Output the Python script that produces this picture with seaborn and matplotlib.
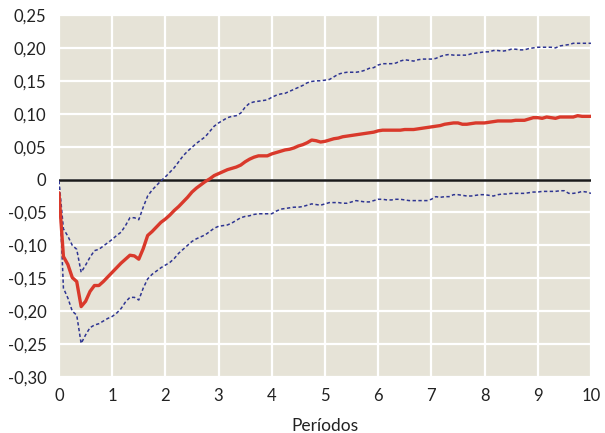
import numpy as np
import pandas as pd
import seaborn as sns
import matplotlib
matplotlib.use("Agg")
import matplotlib.pyplot as plt

# Monthly impulse response over 10 years (121 points, step 1/12)
respuesta = [
    -0.020, -0.117, -0.129, -0.149, -0.155, -0.193, -0.185, -0.170, -0.161, -0.161,
    -0.155, -0.148, -0.141, -0.134, -0.127, -0.121, -0.115, -0.116, -0.121, -0.105,
    -0.085, -0.079, -0.072, -0.065, -0.060, -0.054, -0.047, -0.041, -0.034, -0.027,
    -0.019, -0.013, -0.008, -0.003, 0.001, 0.006, 0.009, 0.012, 0.015, 0.017,
    0.019, 0.022, 0.027, 0.031, 0.034, 0.036, 0.036, 0.036, 0.039, 0.041,
    0.043, 0.045, 0.046, 0.048, 0.051, 0.053, 0.056, 0.060, 0.059, 0.057,
    0.058, 0.060, 0.062, 0.063, 0.065, 0.066, 0.067, 0.068, 0.069, 0.070,
    0.071, 0.072, 0.074, 0.075, 0.075, 0.075, 0.075, 0.075, 0.076, 0.076,
    0.076, 0.077, 0.078, 0.079, 0.080, 0.081, 0.082, 0.084, 0.085, 0.086,
    0.086, 0.084, 0.084, 0.085, 0.086, 0.086, 0.086, 0.087, 0.088, 0.089,
    0.089, 0.089, 0.089, 0.090, 0.090, 0.090, 0.092, 0.094, 0.094, 0.093,
    0.095, 0.094, 0.093, 0.095, 0.095, 0.095, 0.095, 0.097, 0.096, 0.096,
    0.096,
]

banda_superior = [
    -0.002, -0.075, -0.086, -0.100, -0.106, -0.141, -0.130, -0.118, -0.108, -0.106,
    -0.101, -0.096, -0.091, -0.085, -0.080, -0.070, -0.058, -0.058, -0.061, -0.042,
    -0.025, -0.016, -0.009, -0.002, 0.004, 0.011, 0.018, 0.027, 0.036, 0.043,
    0.049, 0.055, 0.060, 0.065, 0.073, 0.081, 0.086, 0.090, 0.094, 0.096,
    0.097, 0.101, 0.110, 0.116, 0.118, 0.119, 0.120, 0.121, 0.125, 0.128,
    0.130, 0.131, 0.134, 0.137, 0.140, 0.143, 0.147, 0.149, 0.150, 0.150,
    0.151, 0.152, 0.156, 0.160, 0.162, 0.163, 0.163, 0.163, 0.164, 0.166,
    0.169, 0.170, 0.174, 0.176, 0.176, 0.176, 0.177, 0.180, 0.182, 0.181,
    0.180, 0.182, 0.183, 0.183, 0.183, 0.184, 0.187, 0.189, 0.190, 0.189,
    0.189, 0.189, 0.189, 0.191, 0.192, 0.193, 0.194, 0.194, 0.196, 0.196,
    0.195, 0.196, 0.198, 0.198, 0.197, 0.197, 0.199, 0.200, 0.201, 0.201,
    0.201, 0.201, 0.200, 0.203, 0.204, 0.205, 0.207, 0.207, 0.207, 0.207,
    0.207,
]

banda_inferior = [
    -0.002, -0.165, -0.180, -0.200, -0.206, -0.249, -0.236, -0.225, -0.221, -0.219,
    -0.215, -0.211, -0.208, -0.203, -0.196, -0.186, -0.179, -0.179, -0.183, -0.165,
    -0.151, -0.144, -0.139, -0.134, -0.130, -0.126, -0.120, -0.112, -0.106, -0.100,
    -0.094, -0.090, -0.087, -0.084, -0.079, -0.074, -0.071, -0.070, -0.069, -0.066,
    -0.062, -0.058, -0.056, -0.055, -0.053, -0.052, -0.052, -0.052, -0.052, -0.048,
    -0.045, -0.044, -0.043, -0.042, -0.042, -0.041, -0.039, -0.037, -0.038, -0.039,
    -0.037, -0.035, -0.035, -0.035, -0.036, -0.036, -0.034, -0.032, -0.033, -0.034,
    -0.034, -0.032, -0.030, -0.030, -0.031, -0.031, -0.030, -0.030, -0.031, -0.032,
    -0.032, -0.032, -0.032, -0.032, -0.030, -0.026, -0.027, -0.026, -0.026, -0.023,
    -0.023, -0.024, -0.025, -0.025, -0.024, -0.023, -0.023, -0.024, -0.025, -0.023,
    -0.022, -0.022, -0.021, -0.021, -0.021, -0.021, -0.020, -0.019, -0.019, -0.018,
    -0.018, -0.018, -0.018, -0.017, -0.017, -0.021, -0.021, -0.020, -0.018, -0.019,
    -0.021,
]

periodos = np.arange(len(respuesta)) / 12.0

x_ticks = list(range(0, 11))
y_ticks = [0.25, 0.20, 0.15, 0.10, 0.05, 0.0, -0.05, -0.10, -0.15, -0.20, -0.25, -0.30]
y_tick_labels = ["0,25", "0,20", "0,15", "0,10", "0,05", "0", "-0,05", "-0,10",
                 "-0,15", "-0,20", "-0,25", "-0,30"]
x_label = "Períodos"

df = pd.DataFrame({
    "periodo": periodos,
    "respuesta": respuesta,
    "superior": banda_superior,
    "inferior": banda_inferior,
})

sns.set_theme(style="white")
plt.rcParams["font.family"] = ["Lato", "DejaVu Sans"]

fig = plt.figure(figsize=(6.05, 4.33), dpi=100)
ax = fig.add_axes([0.0975, 0.1293, 0.8793, 0.8361])
ax.set_facecolor("#e6e3d7")

band_color = "#2e3592"
sns.lineplot(data=df, x="periodo", y="superior", ax=ax, color=band_color,
             linewidth=1.1, dashes=False, linestyle=(0, (2.2, 1.6)), zorder=3)
sns.lineplot(data=df, x="periodo", y="inferior", ax=ax, color=band_color,
             linewidth=1.1, dashes=False, linestyle=(0, (2.2, 1.6)), zorder=3)
ax.axhline(0, color="#1a1a1a", linewidth=1.8, zorder=2)
sns.lineplot(data=df, x="periodo", y="respuesta", ax=ax, color="#d9392b",
             linewidth=2.4, zorder=4)

ax.set_xlim(0, 10)
ax.set_ylim(-0.30, 0.25)
ax.set_xticks(x_ticks)
ax.set_xticklabels([str(t) for t in x_ticks])
ax.set_yticks(y_ticks)
ax.set_yticklabels(y_tick_labels)
ax.grid(True, color="white", linewidth=1.6, zorder=0)
ax.set_axisbelow(True)
for s in ax.spines.values():
    s.set_visible(False)
ax.tick_params(axis="both", length=0, labelsize=12, colors="#222222")
ax.tick_params(axis="y", pad=9)
ax.tick_params(axis="x", pad=8)
ax.set_xlabel(x_label, fontsize=12.5, color="#222222", labelpad=10)
ax.set_ylabel("")

fig.savefig("out.png", dpi=100)
